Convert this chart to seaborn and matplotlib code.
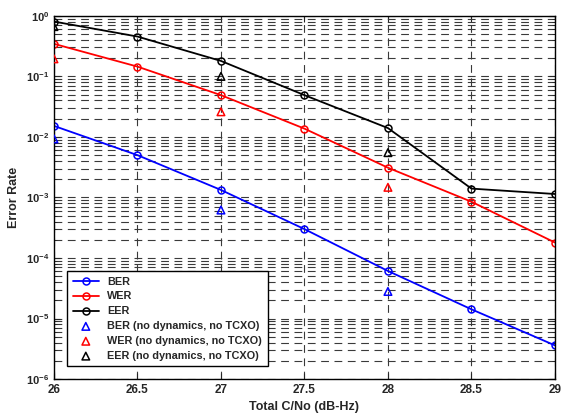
import numpy as np
import pandas as pd
import seaborn as sns
import matplotlib
matplotlib.use('Agg')
import matplotlib.pyplot as plt
from matplotlib.ticker import FixedLocator, NullFormatter

cn = [26, 26.5, 27, 27.5, 28, 28.5, 29]
ber = [0.0152, 0.0050, 0.00133, 3.0e-4, 6.1e-5, 1.42e-5, 3.6e-6]
wer = [0.345, 0.145, 0.049, 0.0137, 0.0031, 8.5e-4, 1.8e-4]
eer = [0.805, 0.455, 0.18, 0.049, 0.014, 0.0014, 0.00114]

cn_nd = [26, 27, 28]
ber_nd = [0.0093, 6.2e-4, 2.8e-5]
wer_nd = [0.195, 0.026, 0.00147]
eer_nd = [0.665, 0.10, 0.0055]

sns.set_style('ticks')
plt.rcParams['font.family'] = ['Liberation Sans', 'DejaVu Sans']
plt.rcParams['font.weight'] = 'bold'
plt.rcParams['font.size'] = 8.5
plt.rcParams['mathtext.fontset'] = 'custom'
plt.rcParams['mathtext.bf'] = 'Liberation Sans:bold'
plt.rcParams['mathtext.rm'] = 'Liberation Sans:bold'

fig = plt.figure(figsize=(5.68, 4.17), dpi=100)
ax = fig.add_axes([0.095, 0.091, 0.882, 0.871])

for vals, c, lab in [(ber, 'blue', 'BER'), (wer, 'red', 'WER'), (eer, 'black', 'EER')]:
    sns.lineplot(x=cn, y=vals, ax=ax, color=c, marker='o', markersize=5,
                 markerfacecolor='none', markeredgecolor=c, markeredgewidth=1.1,
                 linewidth=1.3, label=lab)
for vals, c, lab in [(ber_nd, 'blue', 'BER (no dynamics, no TCXO)'),
                     (wer_nd, 'red', 'WER (no dynamics, no TCXO)'),
                     (eer_nd, 'black', 'EER (no dynamics, no TCXO)')]:
    sns.scatterplot(x=cn_nd, y=vals, ax=ax, marker='^', s=30, facecolor='none',
                    edgecolor=c, linewidth=1.1, label=lab, zorder=3)

ax.set_yscale('log')
ax.set_xlim(26, 29)
ax.set_ylim(1e-6, 1)
ax.set_xticks(cn)
ax.set_xticklabels(['26', '26.5', '27', '27.5', '28', '28.5', '29'], fontsize=8.5)
decades = [1e-6, 1e-5, 1e-4, 1e-3, 1e-2, 1e-1, 1e0]
ax.set_yticks(decades)
ax.set_yticklabels([r'$\mathbf{10^{%d}}$' % int(np.log10(d)) for d in decades], fontsize=8)
minors = [m * d for d in decades[:-1] for m in range(2, 10)]
ax.yaxis.set_minor_locator(FixedLocator(minors))
ax.yaxis.set_minor_formatter(NullFormatter())
ax.tick_params(which='both', direction='in', top=True, right=True)
ax.tick_params(which='major', length=4, width=0.8)
ax.tick_params(which='minor', length=2, width=0.6)

ax.grid(True, which='major', axis='both', color='#3a3a3a', linestyle=(0, (7, 5)), linewidth=0.8)
ax.grid(True, which='minor', axis='y', color='#3a3a3a', linestyle=(0, (7, 5)), linewidth=0.8)
for s in ax.spines.values():
    s.set_linewidth(1.0)
    s.set_color('black')

ax.set_xlabel('Total C/No (dB-Hz)', fontweight='bold', fontsize=9, labelpad=4)
ax.set_ylabel('Error Rate', fontweight='bold', fontsize=9, labelpad=4)

leg = ax.legend(loc='lower left', bbox_to_anchor=(0.016, 0.02), frameon=True, fancybox=False,
                edgecolor='black', framealpha=1, fontsize=7.8, handlelength=2.4,
                labelspacing=0.45, borderpad=0.5)
leg.get_frame().set_linewidth(1.0)

fig.savefig('out.png', dpi=100)
